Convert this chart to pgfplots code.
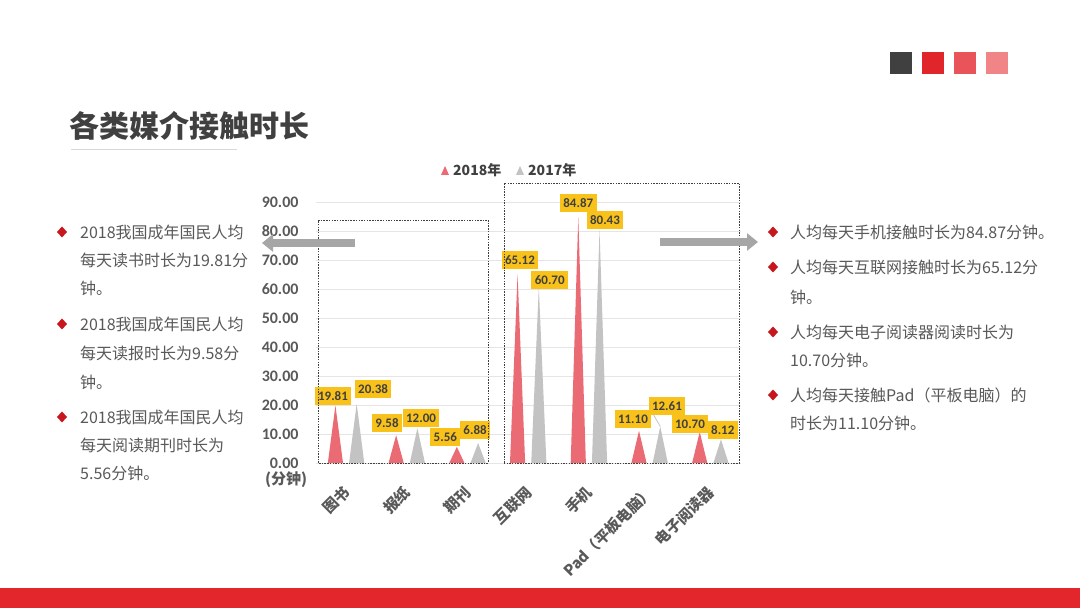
\documentclass[border=0pt]{standalone}
\usepackage{fontspec}
\usepackage{pgfplots}
\pgfplotsset{compat=1.18}
\usetikzlibrary{arrows.meta}
\setmainfont{Noto Sans CJK SC}
\newfontfamily\num{Carlito}
\definecolor{redA}{HTML}{EB6B75}
\definecolor{grayA}{HTML}{C3C3C3}
\definecolor{gold}{HTML}{F9C21A}
\definecolor{body}{HTML}{595959}
\definecolor{dark}{HTML}{404040}
\definecolor{bullet}{HTML}{C8161D}
\definecolor{barred}{HTML}{E3262C}
\definecolor{sqA}{HTML}{404040}
\definecolor{sqB}{HTML}{E0262B}
\definecolor{sqC}{HTML}{E8545A}
\definecolor{sqD}{HTML}{F08486}
\definecolor{arrowg}{HTML}{A6A6A6}
\newcommand{\dia}[2]{\fill[bullet] (#1-5,#2) -- (#1,#2+5.5) -- (#1+5,#2) -- (#1,#2-5.5) -- cycle;}
\newcommand{\lbl}[3]{\node[fill=gold, inner xsep=3.5pt, minimum height=18pt, text=dark, font=\num\bfseries\fontsize{13}{13}\selectfont] at (axis cs:#1,#2) {#3};}
\begin{document}
\begin{tikzpicture}[x=1pt,y=1pt]
\useasboundingbox (0,0) rectangle (1080,608);
\fill[white] (0,0) rectangle (1080,608);
% top right squares
\fill[sqA] (890,534) rectangle (912,556);
\fill[sqB] (922,534) rectangle (944,556);
\fill[sqC] (954,534) rectangle (976,556);
\fill[sqD] (986,534) rectangle (1008,556);
% title
\node[anchor=west, inner sep=0, text=dark, font=\bfseries\fontsize{30}{30}\selectfont] at (69,482) {各类媒介接触时长};
\draw[color=black!15, line width=1pt] (71,458) -- (237,458);
% bottom bar
\fill[barred] (0,0) rectangle (1080,20);
% legend
\fill[redA] (441,433) -- (449,433) -- (445,442) -- cycle;
\node[anchor=west, inner sep=0, text=dark, font=\bfseries\fontsize{14}{14}\selectfont] at (453,438) {2018年};
\fill[grayA] (516,433) -- (524,433) -- (520,442) -- cycle;
\node[anchor=west, inner sep=0, text=dark, font=\bfseries\fontsize{14}{14}\selectfont] at (528,438) {2017年};

\begin{axis}[
  at={(316pt,145pt)}, anchor=south west,
  scale only axis, width=425pt, height=261pt,
  xmin=-0.5, xmax=6.5, ymin=0, ymax=90,
  clip=false,
  axis line style={draw=none},
  major tick length=0pt,
  ymajorgrids, grid style={color=black!10, line width=0.7pt},
  ytick={0,10,...,90},
  yticklabels={0.00,10.00,20.00,30.00,40.00,50.00,60.00,70.00,80.00,90.00},
  yticklabel style={text=body, font=\num\bfseries\fontsize{16}{16}\selectfont, anchor=east, xshift=-14pt},
  xtick={0,...,6},
  xticklabels={图书,报纸,期刊,互联网,手机,Pad（平板电脑）,电子阅读器},
  xticklabel style={text=body, font=\bfseries\fontsize{15}{15}\selectfont, rotate=45, anchor=east, yshift=-19pt, xshift=-15pt},
]
% 2018
\addplot[fill=redA, draw=none] coordinates {(-0.305,0) (-0.18,19.81) (-0.055,0)} --cycle;
\addplot[fill=redA, draw=none] coordinates {(0.695,0) (0.82,9.58) (0.945,0)} --cycle;
\addplot[fill=redA, draw=none] coordinates {(1.695,0) (1.82,5.56) (1.945,0)} --cycle;
\addplot[fill=redA, draw=none] coordinates {(2.695,0) (2.82,65.12) (2.945,0)} --cycle;
\addplot[fill=redA, draw=none] coordinates {(3.695,0) (3.82,84.87) (3.945,0)} --cycle;
\addplot[fill=redA, draw=none] coordinates {(4.695,0) (4.82,11.10) (4.945,0)} --cycle;
\addplot[fill=redA, draw=none] coordinates {(5.695,0) (5.82,10.70) (5.945,0)} --cycle;
% 2017
\addplot[fill=grayA, draw=none] coordinates {(0.045,0) (0.17,20.38) (0.295,0)} --cycle;
\addplot[fill=grayA, draw=none] coordinates {(1.045,0) (1.17,12.00) (1.295,0)} --cycle;
\addplot[fill=grayA, draw=none] coordinates {(2.045,0) (2.17,6.88) (2.295,0)} --cycle;
\addplot[fill=grayA, draw=none] coordinates {(3.045,0) (3.17,60.70) (3.295,0)} --cycle;
\addplot[fill=grayA, draw=none] coordinates {(4.045,0) (4.17,80.43) (4.295,0)} --cycle;
\addplot[fill=grayA, draw=none] coordinates {(5.045,0) (5.17,12.61) (5.295,0)} --cycle;
\addplot[fill=grayA, draw=none] coordinates {(6.045,0) (6.17,8.12) (6.295,0)} --cycle;
% leader line
\draw[color=grayA, line width=0.8pt] (axis cs:5.17,12.61) -- (axis cs:5.05,17.0);
% labels
\lbl{-0.22}{23.0}{19.81}
\lbl{0.44}{25.4}{20.38}
\lbl{0.67}{13.7}{9.58}
\lbl{1.23}{15.5}{12.00}
\lbl{1.63}{8.9}{5.56}
\lbl{2.12}{11.3}{6.88}
\lbl{2.86}{70.1}{65.12}
\lbl{3.35}{63.2}{60.70}
\lbl{3.82}{89.7}{84.87}
\lbl{4.26}{83.8}{80.43}
\lbl{4.72}{15.1}{11.10}
\lbl{5.28}{19.6}{12.61}
\lbl{5.66}{13.4}{10.70}
\lbl{6.20}{11.3}{8.12}
\end{axis}
\node[inner sep=0, text=body, font=\bfseries\fontsize{15}{15}\selectfont] at (286,128) {(分钟)};
% dashed boxes
\draw[color=dark, line width=0.7pt, dash pattern=on 1.5pt off 1.2pt] (318,145) rectangle (488,388);
\draw[color=dark, line width=0.7pt, dash pattern=on 1.5pt off 1.2pt] (504,145) rectangle (739,425);
% arrows
\draw[arrowg, line width=8pt, -{Triangle[width=17pt,length=11pt]}] (355,365) -- (262,365);
\draw[arrowg, line width=8pt, -{Triangle[width=17pt,length=11pt]}] (660,366) -- (758,366);
% left text
\begin{scope}[every node/.style={anchor=west, inner sep=0, text=body, font=\fontsize{16}{16}\selectfont}]
\dia{62}{376}
\node at (80,376) {2018我国成年国民人均};
\node at (80,348) {每天读书时长为19.81分};
\node at (80,320) {钟。};
\dia{62}{284}
\node at (80,284) {2018我国成年国民人均};
\node at (80,255) {每天读报时长为9.58分};
\node at (80,226) {钟。};
\dia{62}{191}
\node at (80,191) {2018我国成年国民人均};
\node at (80,163) {每天阅读期刊时长为};
\node at (80,135) {5.56分钟。};
% right text
\dia{773}{376}
\node at (790,376) {人均每天手机接触时长为84.87分钟。};
\dia{773}{341}
\node at (790,341) {人均每天互联网接触时长为65.12分};
\node at (790,311) {钟。};
\dia{773}{276}
\node at (790,276) {人均每天电子阅读器阅读时长为};
\node at (790,248) {10.70分钟。};
\dia{773}{213}
\node at (790,213) {人均每天接触Pad（平板电脑）的};
\node at (790,185) {时长为11.10分钟。};
\end{scope}
\end{tikzpicture}
\end{document}
